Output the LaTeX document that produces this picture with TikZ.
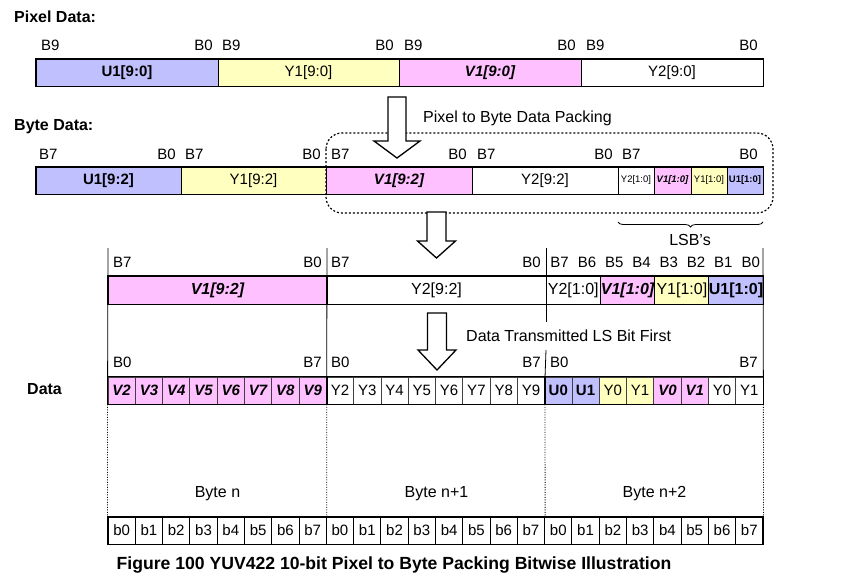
\documentclass[tikz,border=0pt]{standalone}
\usepackage{fontspec}
\setmainfont{Liberation Sans}
\usetikzlibrary{decorations.pathreplacing,calc}
\definecolor{cu}{RGB}{192,192,255}
\definecolor{cy}{RGB}{255,255,192}
\definecolor{cv}{RGB}{255,192,255}
\begin{document}
\begin{tikzpicture}[x=1pt,y=-1pt,
  fnt/.style={font=\fontsize{15}{17}\selectfont},
  cell/.style={draw, line width=0.8pt, inner sep=0pt, minimum height=27pt, fnt},
  lbl/.style={inner sep=0pt, fnt},
  big/.style={inner sep=0pt, font=\fontsize{16}{18}\selectfont},
  boldlbl/.style={inner sep=0pt, font=\fontsize{16}{18}\selectfont\bfseries},
  us/.style={fill=cu, font=\fontsize{15}{17}\selectfont\bfseries},
  ys/.style={fill=cy},
  vs/.style={fill=cv, font=\fontsize{15}{17}\selectfont\bfseries\itshape},
  ws/.style={fill=white},
  r3/.style={font=\fontsize{16}{18}\selectfont},
  r3b/.style={font=\fontsize{16}{18}\selectfont\bfseries},
  r3bi/.style={font=\fontsize{16}{18}\selectfont\bfseries\itshape},
  tiny/.style={font=\fontsize{9.5}{11}\selectfont},
  tinyb/.style={font=\fontsize{9.5}{11}\selectfont\bfseries},
  tinybi/.style={font=\fontsize{9.5}{11}\selectfont\bfseries\itshape},
  thickbox/.style={line width=1.6pt},
  sep/.style={line width=0.8pt},
  dotsep/.style={line width=0.8pt, dash pattern=on 1pt off 1.5pt},
  blockarrow/.style={line width=1.3pt, fill=white, line join=miter}
]
\useasboundingbox (0,0) rectangle (846,582);

% ---------- Pixel data ----------
\node[boldlbl, anchor=west] (tpix) at (14,17) {Pixel Data:};
\node[cell, us, minimum width=182pt] (p1) at (127,72.5) {U1[9:0]};
\node[cell, ys, minimum width=181pt] (p2) at (308.5,72.5) {Y1[9:0]};
\node[cell, vs, minimum width=182pt] (p3) at (490,72.5) {V1[9:0]};
\node[cell, ws, minimum width=182pt] (p4) at (672,72.5) {Y2[9:0]};
\draw[thickbox] (p1.north west) rectangle (p4.south east);
\foreach \x/\t/\a [count=\i] in {41/B9/west,213/B0/east,222/B9/west,394/B0/east,404/B9/west,576/B0/east,586/B9/west,758/B0/east}
  \node[lbl, anchor=\a] (pl\i) at (\x,45) {\t};

% ---------- Byte data ----------
\node[boldlbl, anchor=west] (tbyte) at (14,127) {Byte Data:};
\node[cell, us, minimum width=145pt] (q1) at (108.5,180.5) {U1[9:2]};
\node[cell, ys, minimum width=145pt] (q2) at (253.5,180.5) {Y1[9:2]};
\node[cell, vs, minimum width=146pt] (q3) at (399,180.5) {V1[9:2]};
\node[cell, ws, minimum width=146pt] (q4) at (545,180.5) {Y2[9:2]};
\node[cell, ws, tiny, minimum width=36pt] (q5) at (636,180.5) {Y2[1:0]};
\node[cell, vs, tinybi, minimum width=37pt] (q6) at (672.5,180.5) {V1[1:0]};
\node[cell, ys, tiny, minimum width=36pt] (q7) at (709,180.5) {Y1[1:0]};
\node[cell, us, tinyb, minimum width=36pt] (q8) at (745,180.5) {U1[1:0]};
\draw[thickbox] (q1.north west) rectangle (q8.south east);
\draw[thickbox] (q4.north east) -- (q4.south east);
\foreach \x/\t/\a [count=\i] in {39/B7/west,176/B0/east,185/B7/west,321/B0/east,331/B7/west,467/B0/east,477/B7/west,613/B0/east,622/B7/west,758/B0/east}
  \node[lbl, anchor=\a] (ql\i) at (\x,154) {\t};

% packing dashed box
\coordinate (dbA) at (326,133);
\coordinate (dbB) at (773,213);
\draw[line width=1.2pt, dash pattern=on 2pt off 2pt, rounded corners=16pt] (dbA) rectangle (dbB);

% arrow 1
\coordinate (a1) at (397,97);
\draw[blockarrow] (a1) ++(-9,0) -- ++(18,0) -- ++(0,44) -- ++(14,0) -- ++(-23,17) -- ++(-23,-17) -- ++(14,0) -- cycle;
\node[big, anchor=west] (tpack) at (423,118) {Pixel to Byte Data Packing};

% brace
\coordinate (brL) at (618,222);
\coordinate (brR) at (763,222);
\draw[line width=0.8pt, decorate, decoration={brace, mirror, amplitude=5pt}] (brL) -- (brR);
\node[big] (tlsb) at (690,240) {LSB's};

% arrow 2
\coordinate (a2) at (436.5,212);
\draw[blockarrow] (a2) ++(-9.5,0) -- ++(19,0) -- ++(0,29) -- ++(9.5,0) -- ++(-19,17) -- ++(-19,-17) -- ++(9.5,0) -- cycle;

% ---------- Row 3 ----------
\node[cell, vs, r3bi, minimum width=219pt, minimum height=28pt] (r1) at (217.5,290) {V1[9:2]};
\node[cell, ws, r3, minimum width=219pt, minimum height=28pt] (r2) at (436.5,290) {Y2[9:2]};
\node[cell, ws, r3, minimum width=54.5pt, minimum height=28pt] (r3) at (573.25,290) {Y2[1:0]};
\node[cell, vs, r3bi, minimum width=54.25pt, minimum height=28pt] (r4) at (627.6,290) {V1[1:0]};
\node[cell, ys, r3, minimum width=54.25pt, minimum height=28pt] (r5) at (681.9,290) {Y1[1:0]};
\node[cell, us, r3b, minimum width=54pt, minimum height=28pt] (r6) at (736,290) {U1[1:0]};
\draw[thickbox] (r1.north west) rectangle (r6.south east);
\draw[thickbox] (r2.north west) -- (r2.south west);
\draw[thickbox] (r2.north east) -- (r2.south east);
\foreach \x/\t/\a [count=\i] in {113/B7/west,322/B0/east,331/B7/west,541/B0/east}
  \node[lbl, anchor=\a] (rl\i) at (\x,262) {\t};
\foreach \t [count=\i] in {B7,B6,B5,B4,B3,B2,B1,B0}
  \node[lbl] (rb\i) at ({546+27.29*(\i-0.5)},262) {\t};

% arrow 3
\coordinate (a3) at (437,313);
\draw[blockarrow] (a3) ++(-9.5,0) -- ++(19,0) -- ++(0,37) -- ++(9.5,0) -- ++(-19,20) -- ++(-19,-20) -- ++(9.5,0) -- cycle;
\node[big, anchor=west] (ttx) at (466,336) {Data Transmitted LS Bit First};

% ---------- Data row ----------
\node[boldlbl, anchor=west] (tdata) at (27,389) {Data};
\foreach \t/\st [count=\i] in {V2/vs,V3/vs,V4/vs,V5/vs,V6/vs,V7/vs,V8/vs,V9/vs,Y2/ws,Y3/ws,Y4/ws,Y5/ws,Y6/ws,Y7/ws,Y8/ws,Y9/ws,U0/us,U1/us,Y0/ys,Y1/ys,V0/vs,V1/vs,Y0/ws,Y1/ws}
  \node[cell, \st, draw=black!75, minimum width=27.29pt] (d\i) at ({108+27.29*(\i-0.5)},390.5) {\t};
\draw[thickbox] (d1.north west) rectangle (d24.south east);
\draw[thickbox] (d8.north east) -- (d8.south east);
\draw[thickbox] (d16.north east) -- (d16.south east);
\foreach \x/\t/\a [count=\i] in {113/B0/west,322/B7/east,331/B0/west,541/B7/east,550/B0/west,758/B7/east}
  \node[lbl, anchor=\a] (dl\i) at (\x,362) {\t};

% ---------- Bottom bits ----------
\foreach \g in {0,1,2}
  \foreach \k in {0,...,7}
    \node[cell, ws, line width=1pt, minimum width=27.29pt] (b\g\k) at ({108+27.29*(8*\g+\k+0.5)},530.5) {b\k};
\draw[thickbox] (b00.north west) rectangle (b27.south east);
\node[big] (tb0) at (217.5,494) {Byte n};
\node[big] (tb1) at (436.5,494) {Byte n+1};
\node[big] (tb2) at (654.5,494) {Byte n+2};

% ---------- vertical separators ----------
\coordinate (v1t) at (108,248);
\coordinate (v2t) at (327,248);
\coordinate (v3t) at (546,248);
\coordinate (v4t) at (763,248);
\coordinate (v3a) at (546,322);
\coordinate (v3b) at (546,350);
\draw[sep] (v1t) -- (d1.north west);
\draw[sep] (v2t) -- (d8.north east);
\draw[sep] (v3t) -- (v3a);
\draw[sep] (v3b) -- (d16.north east);
\draw[sep] (v4t) -- (d24.north east);
\draw[dotsep] (d1.south west) -- (b00.north west);
\draw[dotsep] (d8.south east) -- (b07.north east);
\draw[dotsep] (d16.south east) -- (b17.north east);
\draw[dotsep] (d24.south east) -- (b27.north east);

% caption
\node[inner sep=0pt, font=\fontsize{17.6}{20}\selectfont\bfseries] (cap) at (394,565) {Figure 100 YUV422 10-bit Pixel to Byte Packing Bitwise Illustration};
\end{tikzpicture}
\end{document}
